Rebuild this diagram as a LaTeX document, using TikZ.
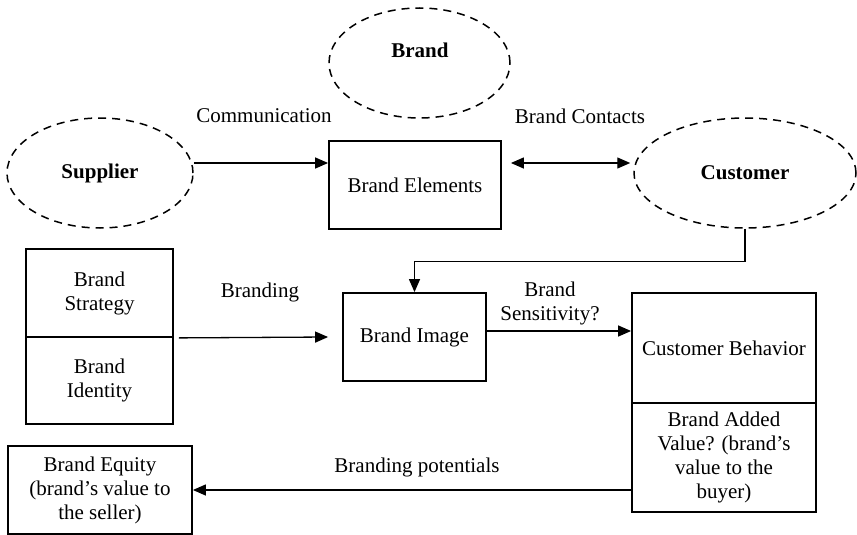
\documentclass[tikz,border=0pt]{standalone}
\usepackage{fontspec}
\setmainfont{Liberation Serif}
\usetikzlibrary{arrows.meta,shapes.geometric,calc}
\begin{document}
\begin{tikzpicture}[x=1pt,y=-1pt,
  every node/.style={font=\fontsize{21}{24}\selectfont, inner sep=0pt, align=center},
  cloud/.style={draw, ellipse, line width=1.5pt, dash pattern=on 8pt off 6pt},
  box/.style={draw, rectangle, line width=1.8pt},
  arr/.style={line width=1.3pt, -{Triangle[length=13pt,width=11pt]}},
  dblarr/.style={line width=1.3pt, {Triangle[length=13pt,width=11pt]}-{Triangle[length=13pt,width=11pt]}},
  lbl/.style={}
]
\useasboundingbox (0,0) rectangle (857,535);

% dashed ellipses
\node[cloud, minimum width=181pt, minimum height=110pt] (brand) at (419.5,63) {};
\node[font=\fontsize{21}{24}\selectfont\bfseries] (brandtxt) at (420,50) {Brand};
\node[cloud, minimum width=186pt, minimum height=110pt, font=\fontsize{21}{24}\selectfont\bfseries] (supplier) at (100,173) {Supplier};
\node[cloud, minimum width=222pt, minimum height=110pt, font=\fontsize{21}{24}\selectfont\bfseries] (customer) at (745,173) {Customer};

% boxes
\node[box, minimum width=172pt, minimum height=88pt] (elements) at (415,185) {Brand Elements};
\node[box, minimum width=147pt, minimum height=88pt] (strategy) at (99.5,293) {Brand\\Strategy};
\node[box, minimum width=147pt, minimum height=87pt] (identity) at (99.5,380.5) {Brand\\Identity};
\node[box, minimum width=143pt, minimum height=88pt] (image) at (414.5,337) {Brand Image};
\node[box, minimum width=184pt, minimum height=110pt] (behavior) at (724,348) {Customer Behavior};
\node[box, minimum width=184pt, minimum height=109pt] (addvalue) at (724,457.5) {Brand Added\\Value? (brand's\\value to the\\buyer)};
\node[box, minimum width=184pt, minimum height=88pt] (equity) at (100,490) {Brand Equity\\(brand's value to\\the seller)};

% connector labels
\node[lbl] (communication) at (264,116) {Communication};
\node[lbl] (contacts) at (580,116) {Brand Contacts};
\node[lbl] (branding) at (260,292) {Branding};
\node[lbl] (sensitivity) at (550,303) {Brand\\Sensitivity?};
\node[lbl] (potentials) at (417,467) {Branding potentials};

% connectors
\coordinate (toprow) at (0,163);
\draw[arr] (supplier.east |- toprow) -- (elements.west |- toprow);
\draw[dblarr] ([xshift=9pt]elements.east |- toprow) -- ([xshift=-3pt]customer.west |- toprow);
\draw[arr] (customer.south) -- ++(0,33) -| (image.north);
\draw[arr] ([xshift=5pt]strategy.south east) -- ([xshift=-14pt]image.west);
\draw[arr] ([yshift=6pt]image.east) -- ([yshift=6pt]image.east -| behavior.west);
\draw[arr] (addvalue.west |- equity.east) -- (equity.east);
\end{tikzpicture}
\end{document}
